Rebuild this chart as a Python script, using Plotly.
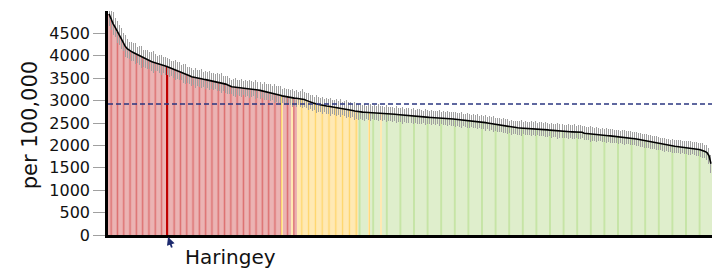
import plotly.graph_objects as go

# Rates per 100,000, ranked from highest to lowest
rate = [
    4935, 4810, 4720, 4640, 4535, 4470, 4390, 4300, 4215, 4160,
    4120, 4098, 4075, 4052, 4020, 3998, 3972, 3950, 3931, 3915,
    3895, 3872, 3858, 3846, 3830, 3815, 3797, 3786, 3772, 3755,
    3738, 3720, 3702, 3688, 3671, 3652, 3628, 3610, 3596, 3580,
    3555, 3532, 3520, 3511, 3503, 3494, 3485, 3476, 3468, 3459,
    3448, 3440, 3432, 3425, 3414, 3405, 3396, 3382, 3368, 3350,
    3325, 3308, 3302, 3298, 3294, 3290, 3284, 3280, 3276, 3270,
    3266, 3262, 3256, 3248, 3238, 3228, 3218, 3210, 3200, 3190,
    3182, 3174, 3165, 3150, 3135, 3120, 3106, 3095, 3086, 3075,
    3066, 3060, 3055, 3051, 3047, 3043, 3038, 3024, 3005, 2985,
    2968, 2952, 2938, 2925, 2913, 2902, 2895, 2888, 2880, 2873,
    2866, 2860, 2853, 2847, 2841, 2835, 2827, 2818, 2808, 2798,
    2788, 2778, 2768, 2758, 2750, 2746, 2742, 2740, 2738, 2736,
    2734, 2732, 2730, 2728, 2726, 2724, 2720, 2716, 2711, 2706,
    2702, 2698, 2694, 2690, 2685, 2680, 2676, 2672, 2668, 2664,
    2660, 2655, 2650, 2645, 2640, 2636, 2633, 2631, 2628, 2626,
    2624, 2622, 2619, 2617, 2615, 2613, 2610, 2606, 2601, 2597,
    2592, 2588, 2583, 2579, 2574, 2570, 2565, 2560, 2556, 2551,
    2547, 2542, 2537, 2532, 2527, 2522, 2515, 2508, 2500, 2492,
    2485, 2477, 2469, 2461, 2453, 2445, 2437, 2429, 2421, 2413,
    2406, 2400, 2396, 2393, 2390, 2388, 2386, 2384, 2382, 2380,
    2378, 2375, 2372, 2369, 2367, 2362, 2357, 2352, 2346, 2340,
    2335, 2331, 2327, 2323, 2320, 2317, 2314, 2311, 2308, 2305,
    2303, 2302, 2300, 2299, 2297, 2295, 2272, 2266, 2261, 2257,
    2252, 2247, 2243, 2238, 2234, 2229, 2225, 2221, 2216, 2212,
    2208, 2203, 2199, 2194, 2190, 2185, 2181, 2177, 2172, 2168,
    2160, 2150, 2141, 2132, 2123, 2114, 2105, 2096, 2088, 2079,
    2070, 2061, 2052, 2043, 2034, 2025, 2016, 2008, 1999, 1990,
    1986, 1981, 1976, 1971, 1967, 1962, 1957, 1953, 1948, 1944,
    1938, 1930, 1921, 1910, 1898, 1885, 1866, 1838, 1770, 1590,
]

# Half-width of 95% confidence interval
ci_half = [
    260, 230, 250, 210, 240, 220, 230, 200, 240, 210,
    190, 220, 200, 230, 180, 210, 250, 190, 200, 220,
    180, 210, 240, 190, 170, 200, 230, 180, 210, 190,
    200, 170, 190, 220, 180, 200, 170, 210, 230, 180,
    190, 200, 170, 220, 180, 190, 210, 170, 200, 180,
    210, 170, 190, 160, 200, 180, 220, 170, 190, 200,
    180, 160, 190, 210, 170, 180, 200, 160, 190, 170,
    200, 180, 160, 210, 170, 190, 160, 200, 180, 170,
    190, 160, 210, 170, 180, 200, 160, 190, 170, 180,
    160, 200, 170, 190, 150, 180, 210, 160, 170, 190,
    160, 180, 150, 200, 170, 160, 190, 150, 180, 170,
    200, 150, 170, 180, 160, 190, 150, 170, 200, 160,
    170, 150, 190, 160, 180, 150, 170, 190, 150, 160,
    180, 150, 170, 160, 190, 150, 170, 140, 180, 160,
    150, 170, 140, 180, 160, 150, 190, 140, 170, 160,
    150, 180, 140, 160, 170, 150, 140, 180, 160, 150,
    170, 140, 160, 150, 180, 140, 160, 150, 170, 140,
    160, 150, 170, 140, 160, 180, 140, 150, 170, 160,
    140, 160, 150, 170, 140, 160, 150, 180, 140, 160,
    150, 170, 140, 160, 150, 140, 170, 150, 160, 140,
    170, 150, 140, 160, 150, 170, 140, 160, 150, 140,
    160, 150, 170, 140, 150, 160, 140, 170, 150, 140,
    160, 150, 140, 170, 150, 160, 140, 150, 160, 140,
    150, 170, 140, 160, 150, 140, 160, 150, 140, 170,
    150, 140, 160, 150, 140, 160, 150, 170, 140, 150,
    160, 140, 150, 160, 140, 150, 170, 140, 150, 160,
    140, 150, 160, 140, 150, 140, 160, 150, 140, 160,
    150, 140, 160, 150, 140, 150, 160, 140, 150, 140,
    160, 150, 140, 150, 160, 140, 150, 140, 160, 150,
    140, 150, 160, 140, 150, 160, 150, 170, 180, 200,
]

# Compared with England: H = higher, S = similar, L = lower
significance = (
    "HHHHHHHHHH" "HHHHHHHHHH" "HHHHHHHHHH" "HHHHHHHHHH" "HHHHHHHHHH"
    "HHHHHHHHHH" "HHHHHHHHHH" "HHHHHHHHHH" "HHHHHHSHHH" "HSHHSSSSSS"
    "SSSSSSSSSS" "SSSSSSSSSS" "SSSSLLLLLS" "LLLLLSLLLL" "LLLLLLLLLL"
    "LLLLLLLLLL" "LLLLLLLLLL" "LLLLLLLLLL" "LLLLLLLLLL" "LLLLLLLLLL"
    "LLLLLLLLLL" "LLLLLLLLLL" "LLLLLLLLLL" "LLLLLLLLLL" "LLLLLLLLLL"
    "LLLLLLLLLL" "LLLLLLLLLL" "LLLLLLLLLL" "LLLLLLLLLL" "LLLLLLLLLL"
)

highlight_name = "Haringey"
highlight_rank = 29
england_rate = 2925
y_ticks = [0, 500, 1000, 1500, 2000, 2500, 3000, 3500, 4000, 4500]

# group styles: light fill with thin darker stripes
styles = {
    "H": dict(bg="#ebb3b3", fg="#d02c2c", gap=6.3, solid=0.24),
    "S": dict(bg="#ffe9b4", fg="#ffc21f", gap=6.8, solid=0.2),
    "L": dict(bg="#dfeecc", fg="#9fd466", gap=13.6, solid=0.11),
}

FONT = "DejaVu Sans"
ranks = list(range(len(rate)))

fig = go.Figure()
for key, st in styles.items():
    idx = [i for i in ranks if significance[i] == key and i != highlight_rank]
    fig.add_trace(go.Bar(
        x=[ranks[i] for i in idx], y=[rate[i] for i in idx],
        marker=dict(color=st["bg"], line=dict(width=0),
                    pattern=dict(shape="|", bgcolor=st["bg"], fgcolor=st["fg"],
                                 size=st["gap"], solidity=st["solid"],
                                 fillmode="overlay")),
        error_y=dict(type="data", array=[ci_half[i] for i in idx],
                     color="#a0a0a0", thickness=1, width=0),
        showlegend=False,
    ))
fig.add_trace(go.Bar(
    x=[ranks[highlight_rank]], y=[rate[highlight_rank]],
    marker=dict(color="#c00000", line=dict(width=0)),
    error_y=dict(type="data", array=[ci_half[highlight_rank]],
                 color="#a0a0a0", thickness=1, width=0),
    showlegend=False,
))
fig.add_trace(go.Scatter(
    x=ranks, y=rate, mode="lines",
    line=dict(color="black", width=1.6),
    showlegend=False,
))

fig.add_shape(type="line", xref="paper", yref="y", x0=0, x1=1,
              y0=england_rate, y1=england_rate,
              line=dict(color="#2a3680", width=1.5, dash="5px,3px"))

# arrow to highlighted area
fig.add_annotation(x=highlight_rank, y=0, xref="x", yref="y", text="",
                   showarrow=True, arrowhead=2, arrowsize=0.9, arrowwidth=1.8,
                   arrowcolor="#1c2a6e", ax=5, ay=14, standoff=2,
                   font=dict(size=1))
fig.add_annotation(x=highlight_rank, y=0, xref="x", yref="y", text=highlight_name,
                   showarrow=False, xanchor="left", yanchor="top",
                   xshift=16, yshift=-8,
                   font=dict(family=FONT, size=20, color="#111111"))

fig.add_annotation(x=0, y=0.49, xref="paper", yref="paper", text="per 100,000",
                   showarrow=False, textangle=-90, xanchor="center", yanchor="middle",
                   xshift=-78,
                   font=dict(family=FONT, size=21, color="#111111"))

fig.update_layout(
    width=721, height=269,
    margin=dict(l=108, r=9, t=11, b=34),
    paper_bgcolor="white", plot_bgcolor="white",
    barmode="overlay", bargap=0,
    xaxis=dict(range=[-0.5, len(rate) - 0.5], showticklabels=False, ticks="",
               showgrid=False, zeroline=False, showline=True,
               linecolor="black", linewidth=2.5),
    yaxis=dict(range=[0, 5000], tickvals=y_ticks, ticks="outside", ticklen=12,
               tickcolor="#a0a0a0", tickwidth=1, showgrid=False, zeroline=False,
               showline=True, linecolor="black", linewidth=2.5,
               tickfont=dict(family=FONT, size=16, color="#111111")),
)

fig.write_html("out.html", config={"displayModeBar": False},
               post_script="document.body.style.margin='0px';")
